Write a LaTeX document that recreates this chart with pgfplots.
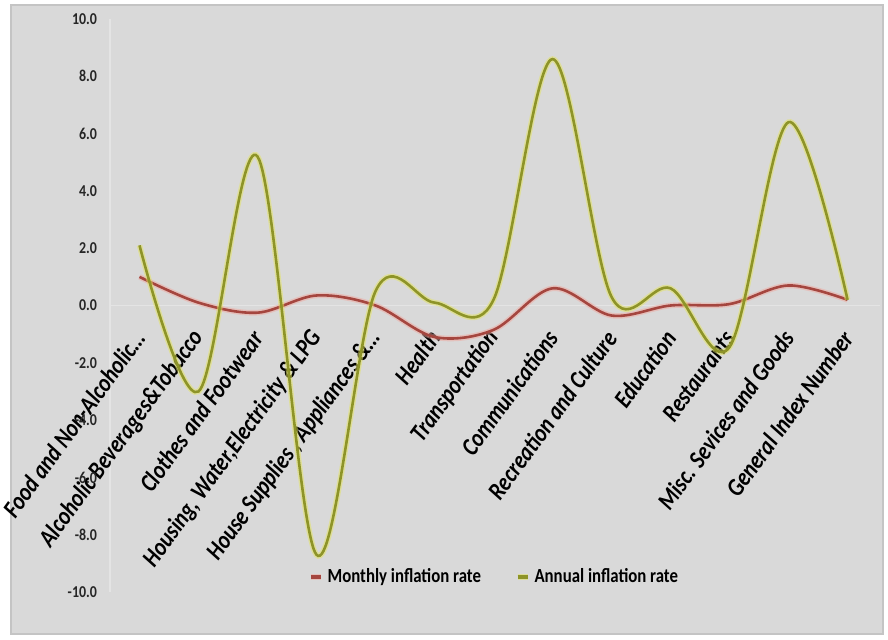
\documentclass[border=0pt]{standalone}
\usepackage{pgfplots}
\pgfplotsset{compat=1.18}
\usepackage{fontspec}
\setmainfont{Carlito}[FakeStretch=0.84]

\definecolor{bgray}{HTML}{D9D9D9}
\definecolor{frame}{HTML}{C4C4C4}
\definecolor{gridl}{HTML}{E4E4E4}
\definecolor{monthly}{HTML}{A5463F}
\definecolor{monthlyglow}{HTML}{EFA89F}
\definecolor{annual}{HTML}{8E9428}
\definecolor{annualglow}{HTML}{E4E45C}

\begin{document}
\begin{tikzpicture}
% page background and chart area
\fill[white] (-55pt,-23.5pt) rectangle (389pt,296pt);
\fill[bgray, draw=frame, line width=0.6pt] (-49.5pt,-21pt) rectangle (386.5pt,293.5pt);

\begin{axis}[
    scale only axis,
    width=385pt,
    height=286.5pt,
    xmin=-0.5, xmax=12.55,
    ymin=-10, ymax=10,
    axis x line=middle,
    axis y line=left,
    axis line style={-, draw=gridl, line width=0.8pt},
    major tick length=0pt,
    xtick={0,...,12},
    xticklabels={
        {Food and Non-Alcoholic…},
        {Alcoholic Beverages\&Tobacco},
        {Clothes and Footwear},
        {Housing, Water,Electricity \& LPG},
        {House Supplies , Appliances \&…},
        {Health},
        {Transportation},
        {Communications},
        {Recreation and Culture},
        {Education},
        {Restaurants},
        {Misc. Sevices and Goods},
        {General Index Number}},
    xticklabel style={font=\fontsize{12.6}{14}\selectfont\bfseries\itshape,
        text=black, xshift=0pt, yshift=-14pt, rotate=54, anchor=east, inner sep=0pt},
    ytick={-10,-8,...,10},
    yticklabel style={font=\fontsize{8.3}{9}\selectfont\bfseries, text=black!85,
        /pgf/number format/.cd, fixed, fixed zerofill, precision=1, assume math mode=true},
    yticklabel shift=3pt,
    legend style={at={(0.5,0.026)}, anchor=center, draw=none, fill=none,
        font=\fontsize{10}{11}\selectfont\bfseries, legend columns=2,
        /tikz/every even column/.append style={column sep=15pt}},
    legend image code/.code={\draw[#1, line width=2pt] (0pt,0pt) -- (5pt,0pt);},
    clip=false,
]
\addplot[monthly, line width=1.3pt, smooth, tension=0.55,
    preaction={draw, monthlyglow, line width=2.8pt, opacity=0.5}]
    coordinates {
    (0,1.0) (1,0.1) (2,-0.25) (3,0.35) (4,0.0) (5,-1.1) (6,-0.85)
    (7,0.6) (8,-0.35) (9,0.0) (10,0.05) (11,0.7) (12,0.2)
};
\addlegendentry{Monthly inflation rate}
\addplot[annual, line width=1.3pt, smooth, tension=0.55,
    preaction={draw, annualglow, line width=2.8pt, opacity=0.5}]
    coordinates {
    (0,2.1) (1,-3.0) (2,5.2) (3,-8.7) (4,0.5) (5,0.1) (6,0.2)
    (7,8.6) (8,0.3) (9,0.6) (10,-1.45) (11,6.4) (12,0.2)
};
\addlegendentry{Annual inflation rate}
\end{axis}
\pgfresetboundingbox
\path[use as bounding box] (-55pt,-23.5pt) rectangle (389pt,296pt);
\end{tikzpicture}
\end{document}
